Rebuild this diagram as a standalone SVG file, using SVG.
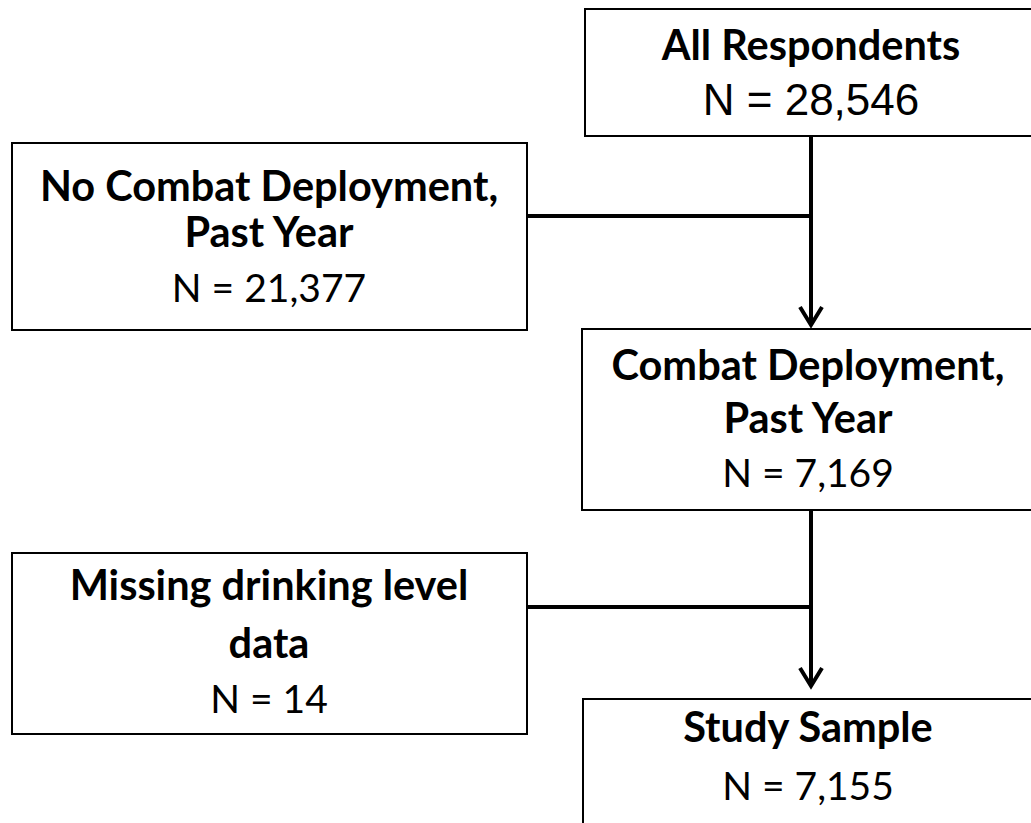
<svg xmlns="http://www.w3.org/2000/svg" width="1031" height="823" viewBox="0 0 1031 823">
<defs>
<style>
.box{fill:#fff;stroke:#000;stroke-width:2}
.t{font-family:Lato,"Open Sans","Liberation Sans",sans-serif;fill:#000;text-anchor:middle}
.b{font-weight:bold;font-size:41.5px}
.n{font-size:39px}
.a{font-family:"Liberation Sans",Arial,sans-serif;font-size:44px}
.c{fill:none;stroke:#000;stroke-width:4}
</style>
<marker id="arr" markerUnits="userSpaceOnUse" markerWidth="30" markerHeight="30" refX="22" refY="15" orient="auto" viewBox="0 0 30 30">
<path d="M4 4 L22 15 L4 26" fill="none" stroke="#000" stroke-width="4"/>
</marker>
</defs>
<rect width="1031" height="823" fill="#fff"/>
<g id="connectors">
<path class="c" d="M811 136 V325" marker-end="url(#arr)"/>
<path class="c" d="M527 216 H811"/>
<path class="c" d="M811 510 V686" marker-end="url(#arr)"/>
<path class="c" d="M527 607 H811"/>
</g>
<g id="all">
<rect class="box" x="585" y="9" width="460" height="127"/>
<text class="t b" x="811" y="60">All Respondents</text>
<text class="t a" x="811" y="115">N = 28,546</text>
</g>
<g id="nocombat">
<rect class="box" x="12" y="143" width="515" height="187"/>
<text class="t b" x="269" y="201">No Combat Deployment,</text>
<text class="t b" x="269" y="247">Past Year</text>
<text class="t n" x="269" y="302">N = 21,377</text>
</g>
<g id="combat">
<rect class="box" x="582" y="329" width="460" height="181"/>
<text class="t b" x="808" y="380">Combat Deployment,</text>
<text class="t b" x="808" y="433">Past Year</text>
<text class="t n" x="808" y="487">N = 7,169</text>
</g>
<g id="missing">
<rect class="box" x="12" y="553" width="515" height="181"/>
<text class="t b" x="269" y="600">Missing drinking level</text>
<text class="t b" x="269" y="658">data</text>
<text class="t n" x="269" y="713">N = 14</text>
</g>
<g id="study">
<rect class="box" x="583" y="699" width="460" height="140"/>
<text class="t b" x="808" y="742">Study Sample</text>
<text class="t n" x="808" y="800">N = 7,155</text>
</g>
</svg>
